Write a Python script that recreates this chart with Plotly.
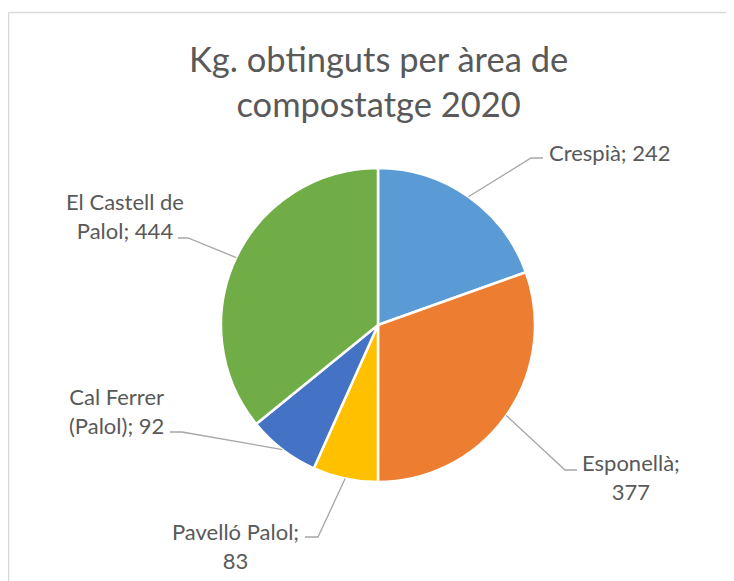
import math
import plotly.graph_objects as go

# ---- data ----
labels = ["Crespià", "Esponellà", "Pavelló Palol", "Cal Ferrer (Palol)", "El Castell de Palol"]
values = [242, 377, 83, 92, 444]
label_texts = ["Crespià; 242", "Esponellà;<br>377", "Pavelló Palol;<br>83",
               "Cal Ferrer<br>(Palol); 92", "El Castell de<br>Palol; 444"]
colors = ["#5B9BD5", "#ED7D31", "#FFC000", "#4472C4", "#70AD47"]
title_text = "Kg. obtinguts per àrea de<br>compostatge 2020"

# ---- layout constants (pixels, in screen coordinates) ----
W, H = 734, 581
OFF = 8  # page offset of the plot inside the browser window
CX, CY, R = 378, 325, 157
FONT = "Lato, 'Open Sans', sans-serif"
TXT = "#595959"
LINE = "#A6A6A6"

# label placement: elbow point, end point, text anchor, xanchor
label_layout = [
    dict(elbow=(531, 158), end=(543, 158), text=(547, 152), xanchor="left", align="left"),
    dict(elbow=(565, 470), end=(577, 470), text=(631, 477), xanchor="center", align="center"),
    dict(elbow=(318, 537), end=(305, 537), text=(236, 546), xanchor="center", align="center"),
    dict(elbow=(182, 432), end=(170, 432), text=(116, 411), xanchor="center", align="center"),
    dict(elbow=(188, 238), end=(178, 238), text=(125, 216), xanchor="center", align="center"),
]


def fx(px):
    return (px - OFF) / W


def fy(py):
    return 1 - (py - OFF) / H


fig = go.Figure(go.Pie(
    labels=labels, values=values, sort=False, direction="clockwise", rotation=0,
    marker=dict(colors=colors, line=dict(color="white", width=2.5)),
    textinfo="none", hoverinfo="label+value", showlegend=False,
    domain=dict(x=[fx(CX - R), fx(CX + R)], y=[fy(CY + R), fy(CY - R)]),
))

total = sum(values)
cum = 0
shapes = []
annotations = []
for v, txt, lay in zip(values, label_texts, label_layout):
    mid = (cum + v / 2) / total * 2 * math.pi
    cum += v
    sx = CX + R * math.sin(mid)
    sy = CY - R * math.cos(mid)
    ex, ey = lay["elbow"]
    tx, ty = lay["end"]
    path = f"M {fx(sx)} {fy(sy)} L {fx(ex)} {fy(ey)} L {fx(tx)} {fy(ty)}"
    shapes.append(dict(type="path", xref="paper", yref="paper", path=path,
                       line=dict(color=LINE, width=1.3)))
    annotations.append(dict(text=txt, x=fx(lay["text"][0]), y=fy(lay["text"][1]),
                            xref="paper", yref="paper", xanchor=lay["xanchor"],
                            yanchor="middle", align=lay["align"], showarrow=False,
                            font=dict(family=FONT, size=22, color=TXT)))

# title
annotations.append(dict(text=title_text, x=fx(CX), y=fy(81), xref="paper", yref="paper",
                        xanchor="center", yanchor="middle", showarrow=False,
                        font=dict(family=FONT, size=34.5, color=TXT)))

# chart border (top and left visible)
shapes.append(dict(type="line", xref="paper", yref="paper", x0=fx(8.5), y0=fy(12.5),
                   x1=1.01, y1=fy(12.5), line=dict(color="#D9D9D9", width=1.5)))
shapes.append(dict(type="line", xref="paper", yref="paper", x0=fx(8.5), y0=fy(12.5),
                   x1=fx(8.5), y1=-0.01, line=dict(color="#D9D9D9", width=1.5)))

fig.update_layout(width=W, height=H, margin=dict(l=0, r=0, t=0, b=0),
                  paper_bgcolor="white", plot_bgcolor="white",
                  shapes=shapes, annotations=annotations)

fig.write_html("out.html")
